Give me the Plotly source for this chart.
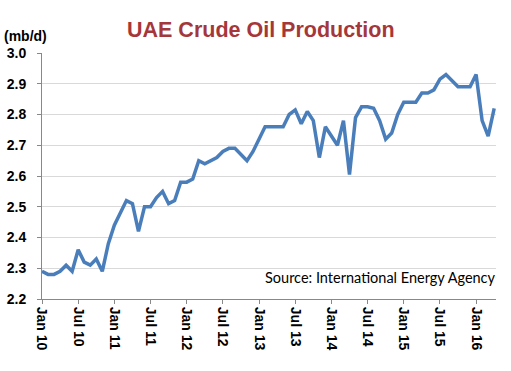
import plotly.graph_objects as go

years = ["10", "11", "12", "13", "14", "15", "16"]
month_names = ["Jan", "Feb", "Mar", "Apr", "May", "Jun", "Jul", "Aug", "Sep", "Oct", "Nov", "Dec"]

production_2010 = [2.29, 2.28, 2.28, 2.29, 2.31, 2.29, 2.36, 2.32, 2.31, 2.33, 2.29, 2.38]
production_2011 = [2.44, 2.48, 2.52, 2.51, 2.42, 2.50, 2.50, 2.53, 2.55, 2.51, 2.52, 2.58]
production_2012 = [2.58, 2.59, 2.65, 2.64, 2.65, 2.66, 2.68, 2.69, 2.69, 2.67, 2.65, 2.68]
production_2013 = [2.72, 2.76, 2.76, 2.76, 2.76, 2.80, 2.815, 2.77, 2.81, 2.78, 2.66, 2.76]
production_2014 = [2.73, 2.70, 2.78, 2.605, 2.79, 2.825, 2.825, 2.82, 2.78, 2.72, 2.74, 2.80]
production_2015 = [2.84, 2.84, 2.84, 2.87, 2.87, 2.88, 2.915, 2.93, 2.91, 2.89, 2.89, 2.89]
production_2016 = [2.93, 2.78, 2.73, 2.82]

values = (production_2010 + production_2011 + production_2012 + production_2013
          + production_2014 + production_2015 + production_2016)
months = [f"{m} {y}" for y in years for m in month_names][:len(values)]
tick_labels = [lab for lab in months if lab.startswith("Jan") or lab.startswith("Jul")]
y_ticks = [2.2, 2.3, 2.4, 2.5, 2.6, 2.7, 2.8, 2.9, 3.0]

fig = go.Figure()
fig.add_trace(go.Scatter(
    x=months, y=values, mode="lines",
    line=dict(color="#4A7EBB", width=3.5),
    hoverinfo="skip",
))

fig.update_layout(
    width=511, height=371,
    margin=dict(l=42, r=15, t=53, b=72),
    paper_bgcolor="white", plot_bgcolor="white",
    showlegend=False,
    font=dict(family="Liberation Sans, Arial, sans-serif", color="black"),
    xaxis=dict(
        type="category",
        categoryorder="array", categoryarray=months,
        range=[0, 75.3],
        tickmode="array", tickvals=tick_labels, ticktext=tick_labels,
        tickangle=90,
        tickfont=dict(size=14, weight="bold", color="black"),
        ticks="outside", ticklen=4, tickcolor="#888888",
        ticklabelstandoff=0,
        showgrid=False,
        showline=True, linecolor="#888888", linewidth=1,
        zeroline=False,
        automargin=False,
    ),
    yaxis=dict(
        range=[2.2, 3.0],
        tickmode="array", tickvals=y_ticks,
        ticktext=[f"{v:.1f}" for v in y_ticks],
        tickfont=dict(size=14, weight="bold", color="black"),
        ticks="outside", ticklen=4, tickcolor="#888888",
        ticklabelstandoff=8,
        showgrid=True, gridcolor="#D9D9D9", gridwidth=1,
        showline=True, linecolor="#888888", linewidth=1,
        zeroline=False,
        automargin=False,
    ),
)

pw = 511 - 42 - 15
ph = 371 - 53 - 72
def px(x):
    return (x - 42) / pw
def py(y):
    return (371 - 72 - y) / ph

fig.update_layout(annotations=[
    dict(text="UAE Crude Oil Production", x=px(261), y=py(30), xref="paper", yref="paper",
         xanchor="center", yanchor="middle", showarrow=False,
         font=dict(size=21.5, weight="bold", color="#A5373B",
                   family="Liberation Sans, Arial, sans-serif")),
    dict(text="(mb/d)", x=px(2), y=py(36), xref="paper", yref="paper",
         xanchor="left", yanchor="middle", showarrow=False,
         font=dict(size=14, weight="bold", color="black",
                   family="Liberation Sans, Arial, sans-serif")),
    dict(text="Source: International Energy Agency", x=px(498), y=py(277), xref="paper", yref="paper",
         xanchor="right", yanchor="middle", showarrow=False,
         font=dict(size=14.5, color="black", family="Lato, Carlito, sans-serif")),
])

fig.write_html("out.html",
               config={"displayModeBar": False, "staticPlot": True},
               post_script="document.body.style.margin='0';document.body.style.overflow='hidden';")
